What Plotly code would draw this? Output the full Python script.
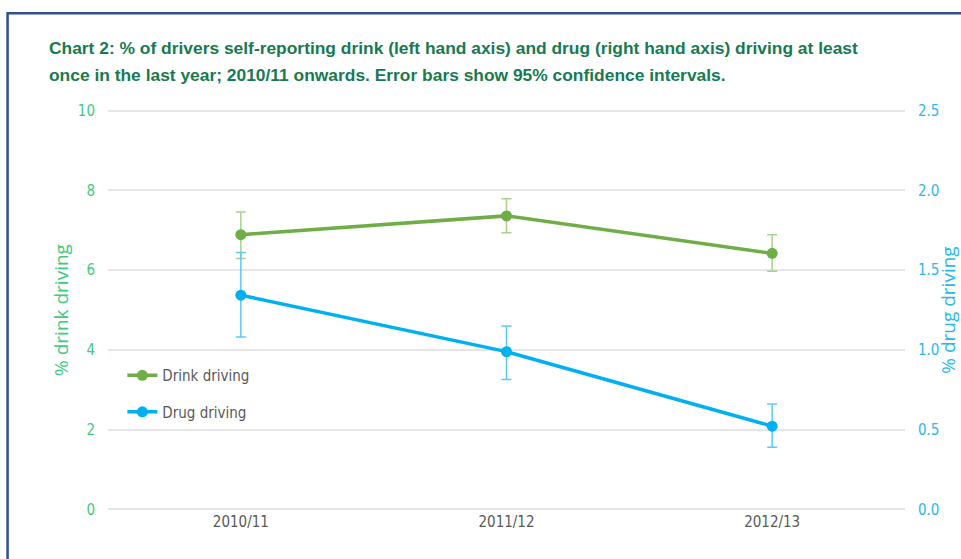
import plotly.graph_objects as go

years = ["2010/11", "2011/12", "2012/13"]
drink = [6.89, 7.36, 6.42]
drink_hi = [7.46, 7.79, 6.89]
drink_lo = [6.29, 6.94, 5.97]
drug = [1.343, 0.989, 0.522]
drug_hi = [1.61, 1.15, 0.66]
drug_lo = [1.08, 0.815, 0.39]

left_ticks = [0, 2, 4, 6, 8, 10]
right_ticks = [0.0, 0.5, 1.0, 1.5, 2.0, 2.5]

title_lines = [
    "Chart 2: % of drivers self-reporting drink (left hand axis) and drug (right hand axis) driving at least",
    "once in the last year; 2010/11 onwards. Error bars show 95% confidence intervals.",
]

GREEN = "#70AD47"
GREEN_ERR = "#A9D18E"
BLUE = "#00B0F0"
BLUE_ERR = "#5CCBF2"
NARROW = "Liberation Sans Narrow, Arial Narrow, DejaVu Sans Condensed, sans-serif"

fig = go.Figure()
fig.add_trace(go.Scatter(
    x=years, y=drink, name="Drink driving", mode="lines+markers", legendgroup="a",
    line=dict(color=GREEN, width=3.5), marker=dict(color=GREEN, size=11),
    error_y=dict(type="data", symmetric=False,
                 array=[h - v for h, v in zip(drink_hi, drink)],
                 arrayminus=[v - l for v, l in zip(drink, drink_lo)],
                 color=GREEN_ERR, thickness=1.5, width=5),
    yaxis="y",
))
fig.add_trace(go.Scatter(
    x=years, y=drug, name="Drug driving", mode="lines+markers", legendgroup="b",
    line=dict(color=BLUE, width=3.5), marker=dict(color=BLUE, size=11),
    error_y=dict(type="data", symmetric=False,
                 array=[h - v for h, v in zip(drug_hi, drug)],
                 arrayminus=[v - l for v, l in zip(drug, drug_lo)],
                 color=BLUE_ERR, thickness=1.5, width=5),
    yaxis="y2",
))

fig.update_layout(
    width=961, height=559,
    margin=dict(l=108, r=56, t=109, b=48, autoexpand=False),
    paper_bgcolor="white", plot_bgcolor="white",
    showlegend=True,
    legend=dict(x=0.018, y=0.378, xanchor="left", yanchor="top",
                bgcolor="rgba(0,0,0,0)",
                font=dict(family=NARROW, size=15, color="#595959"),
                tracegroupgap=14, itemwidth=30),
    xaxis=dict(type="category", range=[-0.5, 2.5], showgrid=False,
               showline=False, zeroline=False, ticks="",
               tickfont=dict(family=NARROW, size=15, color="#595959")),
    yaxis=dict(range=[-0.04, 10.04], tickvals=left_ticks, showgrid=True,
               gridcolor="#E6E6E6", gridwidth=2, zeroline=False, showline=False,
               automargin=False,
               tickfont=dict(family=NARROW, size=15, color="#3DCB7E"),
               ticklabelstandoff=12,
               title=dict(text="% drink driving", standoff=4,
                          font=dict(family="Open Sans, sans-serif", size=19, color="#3DCB7E"))),
    yaxis2=dict(range=[-0.01, 2.51], tickvals=right_ticks, tickformat=".1f",
                overlaying="y", side="right", showgrid=False, zeroline=False,
                showline=False, automargin=False,
                tickfont=dict(family=NARROW, size=15, color="#29B8EE"),
                ticklabelstandoff=12,
                title=dict(text="% drug driving", standoff=14,
                           font=dict(family="Open Sans, sans-serif", size=19, color="#29B8EE"))),
    annotations=[
        dict(text="<b>" + title_lines[0] + "</b>", xref="paper", yref="paper",
             x=-0.0765, y=1.1517, xanchor="left", yanchor="middle", showarrow=False,
             font=dict(family="Liberation Sans, Arial, sans-serif", size=17.4, color="#187A50")),
        dict(text="<b>" + title_lines[1] + "</b>", xref="paper", yref="paper",
             x=-0.0765, y=1.0846, xanchor="left", yanchor="middle", showarrow=False,
             font=dict(family="Liberation Sans, Arial, sans-serif", size=17.4, color="#187A50")),
    ],
    shapes=[dict(type="rect", xref="paper", yref="paper",
                 x0=-0.126, x1=1.3, y0=-0.3, y1=1.238,
                 line=dict(color="#2E4F8A", width=2.5), fillcolor="rgba(0,0,0,0)",
                 layer="above")],
)

fig.write_html("out.html")
